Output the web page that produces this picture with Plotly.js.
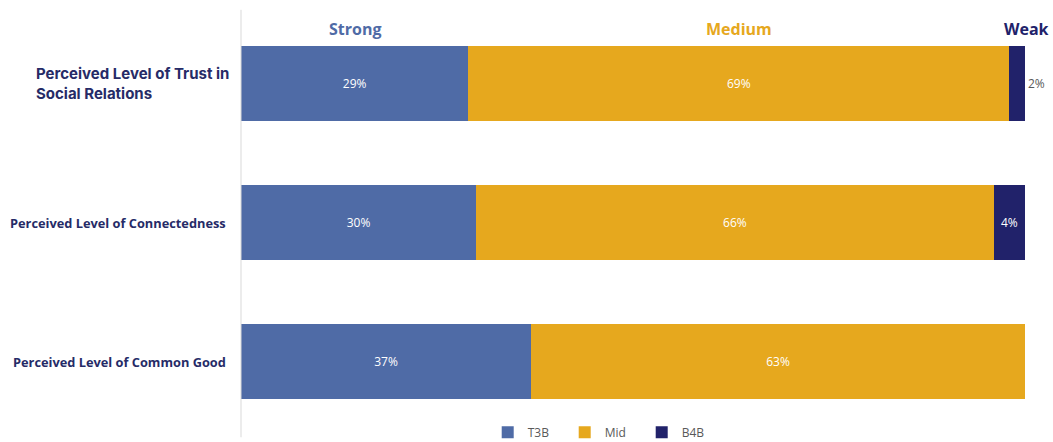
<!DOCTYPE html>
<html><head><meta charset="utf-8">
<script src="https://cdn.plot.ly/plotly-3.0.1.min.js"></script>
<style>body{margin:0;background:#fff}#c{width:1053px;height:442px}</style>
</head><body><div id="c"></div>
<script>
const categories = ["Perceived Level of Trust in<br>Social Relations", "Perceived Level of Connectedness", "Perceived Level of Common Good"];
const seriesNames = ["T3B", "Mid", "B4B"];
const headers = ["Strong", "Medium", "Weak"];
const t3b = [29, 30, 37];
const mid = [69, 66, 63];
const b4b = [2, 4, 0];

const colors = ["#4F6BA6", "#E6A81E", "#21226A"];
const navy = "#262B67";
const catKeys = ["c0", "c1", "c2"];
const lbl = v => v.map(x => x > 0 ? x + "%" : "");

function mk(name, vals, color, pos) {
  return {
    type: "bar", orientation: "h", name: name, x: vals, y: catKeys,
    marker: {color: color, line: {width: 0}},
    text: lbl(vals), textposition: pos, insidetextanchor: "middle",
    insidetextfont: {color: "#ffffff", size: 12, family: "Open Sans, sans-serif"},
    outsidetextfont: {color: "#595959", size: 12, family: "Open Sans, sans-serif"},
    textangle: 0, constraintext: "none", cliponaxis: false, hoverinfo: "none"
  };
}
const data = [
  mk(seriesNames[0], t3b, colors[0], "inside"),
  mk(seriesNames[1], mid, colors[1], "inside"),
  mk(seriesNames[2], b4b, colors[2], ["outside", "inside", "none"])
];

const annotations = [];
annotations.push({xref: "paper", yref: "y", x: -0.013, y: catKeys[0], xanchor: "right", yanchor: "middle", align: "left",
  text: "<b>" + categories[0] + "</b>", showarrow: false, font: {family: "Inter, sans-serif", size: 15, color: navy}});
for (let i = 1; i < 3; i++) {
  annotations.push({xref: "paper", yref: "y", x: -0.016, y: catKeys[i], xanchor: "right", yanchor: "middle",
    text: "<b>" + categories[i] + "</b>", showarrow: false, font: {family: "Open Sans, sans-serif", size: 12.8, color: navy}});
}
const hx = [t3b[0] / 2, t3b[0] + mid[0] / 2];
for (let i = 0; i < 2; i++) {
  annotations.push({xref: "x", yref: "paper", x: hx[i], y: 0.965, xanchor: "center", yanchor: "middle",
    text: "<b>" + headers[i] + "</b>", showarrow: false, font: {family: "Open Sans, sans-serif", size: 16, color: colors[i]}});
}
annotations.push({xref: "paper", yref: "paper", x: 1.002, y: 0.965, xanchor: "center", yanchor: "middle",
  text: "<b>" + headers[2] + "</b>", showarrow: false, font: {family: "Open Sans, sans-serif", size: 16, color: colors[2]}});

const layout = {
  width: 1053, height: 442,
  margin: {l: 241, r: 28, t: 14, b: 11, autoexpand: false},
  barmode: "stack", bargap: 0.46,
  paper_bgcolor: "#ffffff", plot_bgcolor: "#ffffff",
  xaxis: {range: [0, 100], showgrid: false, zeroline: false, showticklabels: false, showline: false, fixedrange: true},
  yaxis: {autorange: "reversed", showticklabels: false, showgrid: false, zeroline: false, showline: false, fixedrange: true},
  showlegend: true,
  legend: {orientation: "h", traceorder: "normal", x: 0.462, xanchor: "center", y: -0.003, yanchor: "middle",
    font: {family: "Open Sans, sans-serif", size: 12, color: "#595959"},
    entrywidth: 32, entrywidthmode: "pixels", itemwidth: 30, itemclick: false, bgcolor: "rgba(0,0,0,0)"},
  shapes: [{type: "line", xref: "paper", yref: "paper", x0: 0, x1: 0, y0: -0.015, y1: 1.01,
    line: {color: "#d9d9d9", width: 1}}],
  annotations: annotations
};
Plotly.newPlot("c", data, layout, {displayModeBar: false, staticPlot: true});
</script></body></html>
